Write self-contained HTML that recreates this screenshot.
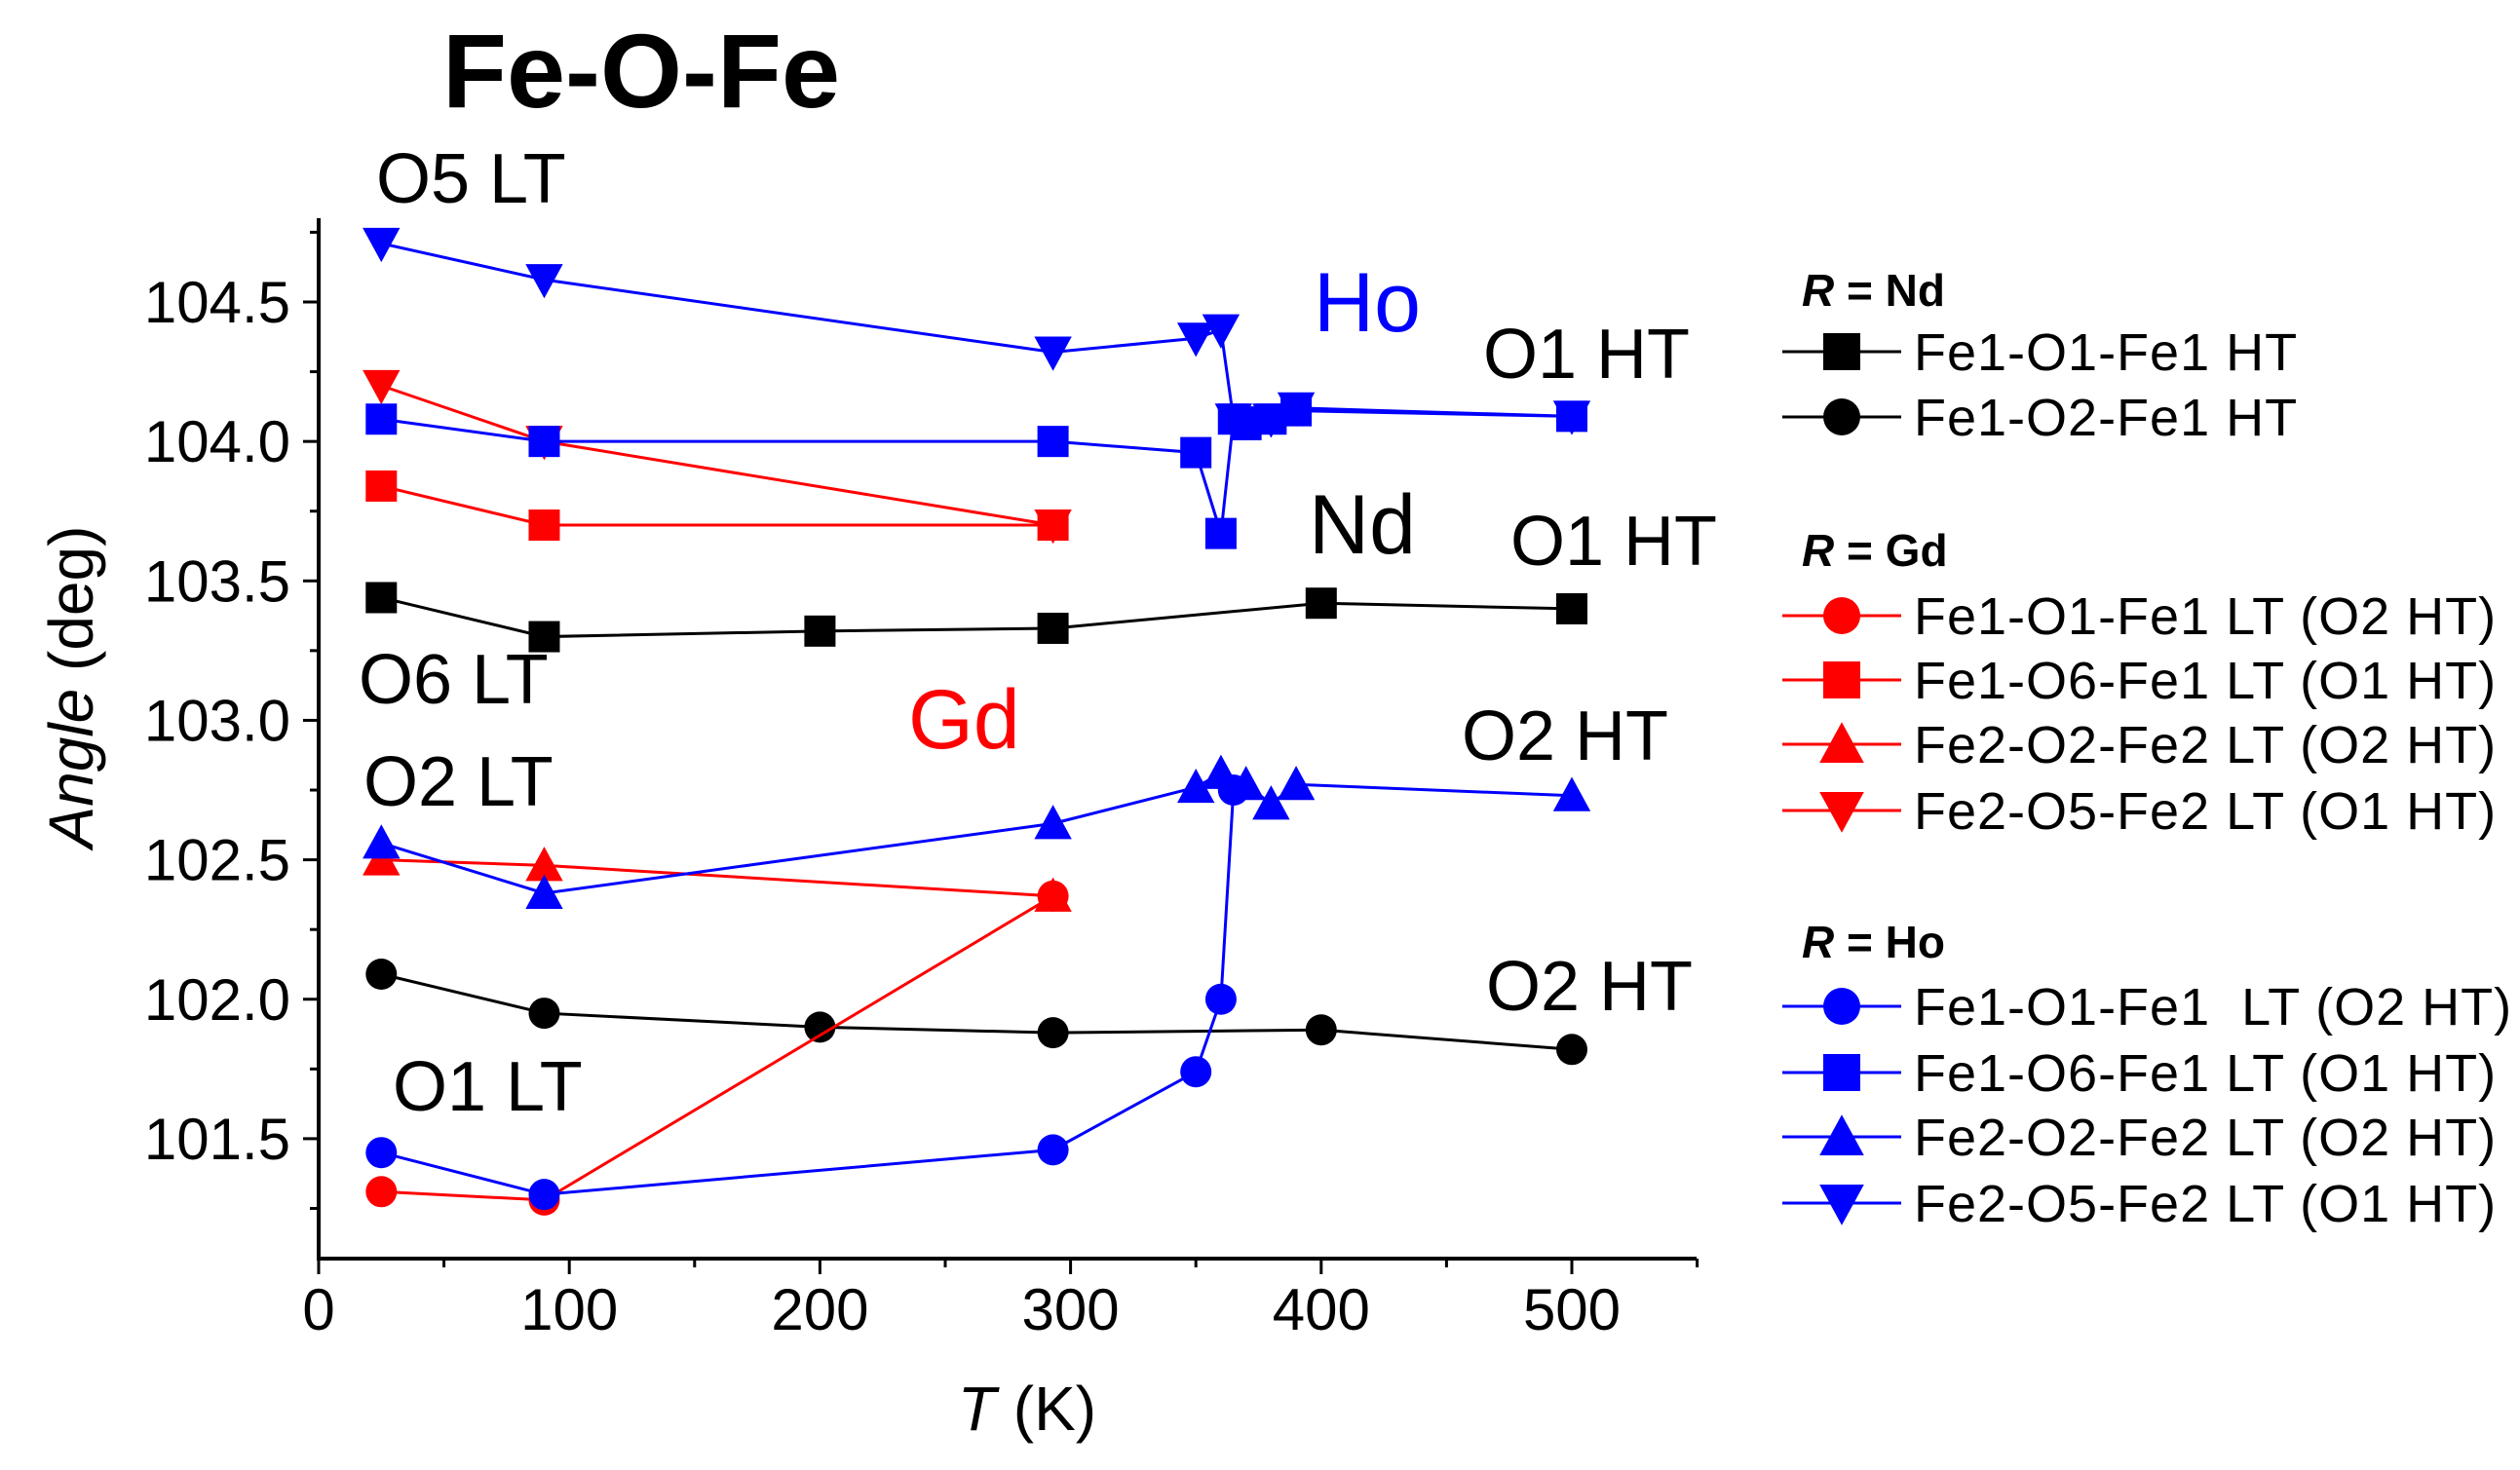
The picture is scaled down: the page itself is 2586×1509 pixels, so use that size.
<!DOCTYPE html>
<html><head><meta charset="utf-8"><style>
html,body{margin:0;padding:0;background:#fff;}
svg{display:block;font-family:"Liberation Sans",Arial,sans-serif;}
</style></head><body>
<svg id="chart" width="2586" height="1509" viewBox="0 0 2586 1509" xmlns="http://www.w3.org/2000/svg">
<text x="454" y="110" font-size="108" font-weight="bold">Fe-O-Fe</text>
<g id="axes"></g>
<g id="series"></g>
<g font-size="72">
<text x="386" y="208">O5 LT</text>
<text x="1348" y="340" font-size="86" fill="#0000ff">Ho</text>
<text x="1522" y="388">O1 HT</text>
<text x="1343" y="568" font-size="86">Nd</text>
<text x="1550" y="580">O1 HT</text>
<text x="368" y="722">O6 LT</text>
<text x="932" y="768" font-size="86" fill="#ff0000">Gd</text>
<text x="1500" y="780">O2 HT</text>
<text x="373" y="827">O2 LT</text>
<text x="1525" y="1037">O2 HT</text>
<text x="403" y="1140">O1 LT</text>
</g>
<text transform="translate(95,705) rotate(-90)" text-anchor="middle" font-size="64"><tspan font-style="italic">Angle</tspan> (deg)</text>
<text x="1054" y="1468" text-anchor="middle" font-size="64"><tspan font-style="italic">T</tspan> (K)</text>
<g id="legend"></g>
</svg>
<script>
const ndTemps1=[25,90,200,293,400,500];
const ndO1=[103.44,103.30,103.32,103.33,103.42,103.40];
const ndTemps2=[25,90,200,293,400,500];
const ndO2=[102.09,101.95,101.90,101.88,101.89,101.82];
const gdTemps=[25,90,293];
const gdO1=[101.31,101.28,102.37];
const gdO6=[103.84,103.70,103.70];
const gdO2=[102.50,102.48,102.37];
const gdO5=[104.20,104.00,103.70];
const hoTempsO1=[25,90,293,350,360,365];
const hoO1=[101.45,101.30,101.46,101.74,102.00,102.75];
const hoTempsO6=[25,90,293,350,360,365,370,380,390,500];
const hoO6=[104.08,104.00,104.00,103.96,103.67,104.08,104.06,104.08,104.11,104.09];
const hoTempsO2=[25,90,293,350,360,370,380,390,500];
const hoO2=[102.56,102.38,102.63,102.76,102.81,102.77,102.70,102.77,102.73];
const hoTempsO5=[25,90,293,350,360,365,370,380,390,500];
const hoO5=[104.71,104.58,104.32,104.37,104.40,104.08,104.07,104.08,104.12,104.09];
const xTicks=[0,100,200,300,400,500];
const yTicks=[101.5,102.0,102.5,103.0,103.5,104.0,104.5];

const NS="http://www.w3.org/2000/svg";
const X0=327,XPX=2.572,YREF=104.5,YREFPX=310,YPX=286.3;
const xs=t=>X0+t*XPX;
const ys=v=>YREFPX+(YREF-v)*YPX;
function mk(tag,attrs,parent){const e=document.createElementNS(NS,tag);for(const k in attrs)e.setAttribute(k,attrs[k]);parent.appendChild(e);return e;}
const axes=document.getElementById('axes');
let e=mk('line',{x1:X0,y1:224,x2:X0,y2:1292,stroke:'#000','stroke-width':4},axes);


e=mk('line',{x1:X0-2,y1:1292,x2:1741,y2:1292,stroke:'#000','stroke-width':4},axes);


for(let t=0;t<=550;t+=50){
  const major=t%100===0;
  e=mk('line',{x1:xs(t),y1:1292,x2:xs(t),y2:1292+(major?16:9),stroke:'#000','stroke-width':3},axes);
  
  
}
xTicks.forEach(t=>{
  e=mk('text',{x:xs(t),y:1365,'text-anchor':'middle','font-size':60},axes);
  e.textContent=String(t);
  
  
});
for(let v=101.25;v<=104.76;v+=0.25){
  const major=Math.abs(v*2-Math.round(v*2))<1e-6;
  e=mk('line',{x1:X0,y1:ys(v),x2:X0-(major?16:9),y2:ys(v),stroke:'#000','stroke-width':3},axes);
  
  
}
yTicks.forEach(v=>{
  e=mk('text',{x:298,y:ys(v)+21,'text-anchor':'end','font-size':60},axes);
  e.textContent=v.toFixed(1);
  
  
});

function marker(shape,cx,cy,color,parent,s){
  s=s||16;let m;
  if(shape==='circle')m=mk('circle',{cx:cx,cy:cy,r:s,fill:color},parent);
  else if(shape==='square')m=mk('rect',{x:cx-s,y:cy-s,width:2*s,height:2*s,fill:color},parent);
  else if(shape==='up')m=mk('polygon',{points:`${cx},${cy-s*1.2} ${cx-s*1.2},${cy+s} ${cx+s*1.2},${cy+s}`,fill:color},parent);
  else m=mk('polygon',{points:`${cx},${cy+s*1.2} ${cx-s*1.2},${cy-s} ${cx+s*1.2},${cy-s}`,fill:color},parent);
  return m;
}
const seriesG=document.getElementById('series');
const defs=[
 ['nd-o1',ndTemps1,ndO1,'#000','square'],
 ['nd-o2',ndTemps2,ndO2,'#000','circle'],
 ['gd-o1',gdTemps,gdO1,'#ff0000','circle'],
 ['gd-o6',gdTemps,gdO6,'#ff0000','square'],
 ['gd-o2',gdTemps,gdO2,'#ff0000','up'],
 ['gd-o5',gdTemps,gdO5,'#ff0000','down'],
 ['ho-o1',hoTempsO1,hoO1,'#0000ff','circle'],
 ['ho-o6',hoTempsO6,hoO6,'#0000ff','square'],
 ['ho-o2',hoTempsO2,hoO2,'#0000ff','up'],
 ['ho-o5',hoTempsO5,hoO5,'#0000ff','down']
];
defs.forEach(d=>{
  const g=mk('g',{},seriesG);
  
  
  const pts=d[1].map((t,i)=>xs(t)+','+ys(d[2][i])).join(' ');
  const l=mk('polyline',{points:pts,fill:'none',stroke:d[3],'stroke-width':3},g);
  
  
  d[1].forEach((t,i)=>{
    const m=marker(d[4],xs(t),ys(d[2][i]),d[3],g);
    
    
  });
});

const leg=document.getElementById('legend');
const legHeads=[['Nd',298],['Gd',565],['Ho',967]];
legHeads.forEach(h=>{
  const t=mk('text',{x:1849,y:h[1]+16,'font-size':46,'font-weight':'bold'},leg);
  t.innerHTML='<tspan font-style="italic">R</tspan> = '+h[0];
  
  
});
const legRows=[
 ['Fe1-O1-Fe1 HT','#000','square',361],
 ['Fe1-O2-Fe1 HT','#000','circle',428],
 ['Fe1-O1-Fe1 LT (O2 HT)','#ff0000','circle',632],
 ['Fe1-O6-Fe1 LT (O1 HT)','#ff0000','square',698],
 ['Fe2-O2-Fe2 LT (O2 HT)','#ff0000','up',764],
 ['Fe2-O5-Fe2 LT (O1 HT)','#ff0000','down',832],
 ['Fe1-O1-Fe1  LT (O2 HT)','#0000ff','circle',1033],
 ['Fe1-O6-Fe1 LT (O1 HT)','#0000ff','square',1101],
 ['Fe2-O2-Fe2 LT (O2 HT)','#0000ff','up',1167],
 ['Fe2-O5-Fe2 LT (O1 HT)','#0000ff','down',1235]
];
legRows.forEach(r=>{
  const g=mk('g',{},leg);
  
  
  mk('line',{x1:1829,y1:r[3],x2:1951,y2:r[3],stroke:r[1],'stroke-width':3},g);
  marker(r[2],1890,r[3],r[1],g,19);
  const t=mk('text',{x:1964,y:r[3]+19,'font-size':54,'letter-spacing':'1'},g);
  t.setAttribute('style','white-space:pre');
  t.textContent=r[0];
});
</script>
</body></html>
